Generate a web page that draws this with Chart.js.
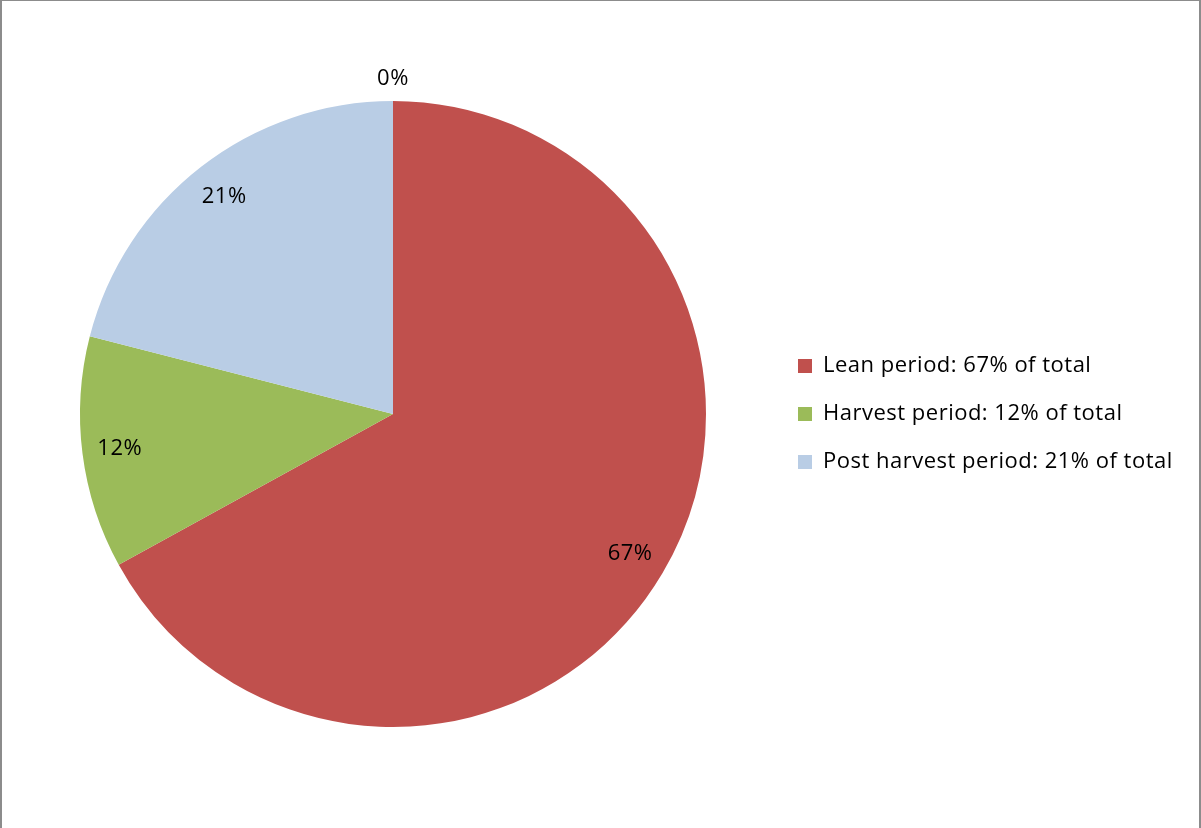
<!DOCTYPE html>
<html>
<head>
<meta charset="utf-8">
<script src="https://cdn.jsdelivr.net/npm/chart.js@4.4.1/dist/chart.umd.min.js"></script>
<style>
  html, body { margin: 0; padding: 0; background: #fff; }
  #wrap { position: relative; width: 1201px; height: 828px; }
  #frame {
    position: absolute; left: 0; top: 0; width: 1197px; height: 828px;
    border-left: 2px solid #8c8c8c; border-right: 2px solid #8c8c8c; border-top: 1px solid #8c8c8c;
    pointer-events: none;
  }
</style>
</head>
<body>
<div id="wrap">
  <canvas id="periodPie" width="1201" height="828"></canvas>
  <div id="frame"></div>
</div>
<script>
// share of total per period (last entry is an empty slice that only carries a 0% label)
const periods = ['Lean period', 'Harvest period', 'Post harvest period', ''];
const shares = [67, 12, 21, 0];
const sliceColors = ['#C0504D', '#9BBB59', '#B9CDE5', '#4BACC6'];

const FONT = '"Open Sans", "Liberation Sans", sans-serif';
const FONT_SIZE = 22;
const TRACKING = '0.5px';

function legendText(i) {
    return periods[i] + ': ' + shares[i] + '% of total';
}

// a bit of letter spacing on everything the chart writes
const tracking = {
    id: 'tracking',
    beforeLayout(chart) { chart.ctx.letterSpacing = TRACKING; },
    beforeDraw(chart) { chart.ctx.letterSpacing = TRACKING; }
};

// percentage labels inside each slice, zero slices get theirs just outside the rim
const sliceLabels = {
    id: 'sliceLabels',
    afterDatasetsDraw(chart) {
        const ctx = chart.ctx;
        const meta = chart.getDatasetMeta(0);
        ctx.save();
        ctx.font = FONT_SIZE + 'px ' + FONT;
        ctx.letterSpacing = TRACKING;
        ctx.fillStyle = '#000';
        ctx.textAlign = 'center';
        ctx.textBaseline = 'middle';
        meta.data.forEach((arc, i) => {
            const p = arc.getProps(['x', 'y', 'startAngle', 'endAngle', 'outerRadius'], true);
            const mid = (p.startAngle + p.endAngle) / 2;
            const r = shares[i] === 0 ? p.outerRadius + 22 : p.outerRadius * 0.88;
            ctx.fillText(shares[i] + '%', p.x + Math.cos(mid) * r, p.y + Math.sin(mid) * r);
        });
        ctx.restore();
    }
};

document.addEventListener('DOMContentLoaded', () => {
    const canvas = document.getElementById('periodPie');

    // widest legend line decides how much room the legend takes on the right
    const probe = canvas.getContext('2d');
    probe.font = FONT_SIZE + 'px ' + FONT;
    probe.letterSpacing = TRACKING;
    let textW = 0;
    for (let i = 0; i < 3; i++) {
        textW = Math.max(textW, probe.measureText(legendText(i)).width);
    }
    const legendPad = 26;
    const boxW = 14;
    const legendLeft = 772;
    const legendW = legendPad + boxW + FONT_SIZE / 2 + textW + 10;
    const rightPad = Math.max(0, 1201 - legendLeft - legendW);

    new Chart(canvas, {
        type: 'pie',
        data: {
            labels: periods,
            datasets: [{
                data: shares,
                backgroundColor: sliceColors,
                borderWidth: 0,
                hoverOffset: 0,
            }]
        },
        options: {
            responsive: false,
            animation: false,
            layout: {
                padding: { left: 14, top: 101, bottom: 101, right: rightPad }
            },
            plugins: {
                tooltip: { enabled: false },
                legend: {
                    position: 'right',
                    align: 'center',
                    labels: {
                        boxWidth: boxW,
                        boxHeight: boxW,
                        padding: legendPad,
                        color: '#000',
                        font: { family: FONT, size: FONT_SIZE },
                        generateLabels: (chart) => periods.slice(0, 3).map((name, i) => ({
                            text: legendText(i),
                            fillStyle: sliceColors[i],
                            strokeStyle: sliceColors[i],
                            lineWidth: 0,
                            hidden: false,
                            index: i,
                        })),
                    }
                }
            }
        },
        plugins: [tracking, sliceLabels]
    });
});
</script>
</body>
</html>
